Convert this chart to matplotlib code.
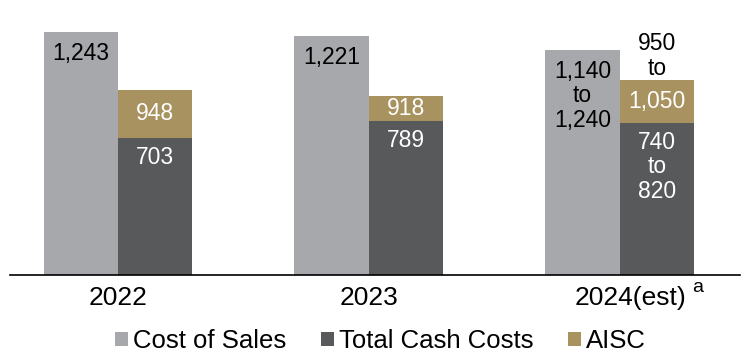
import matplotlib.pyplot as plt
import numpy as np

plt.rcParams['font.family'] = ['Liberation Sans', 'DejaVu Sans']

years = ['2022', '2023', '2024(est)']
cost_of_sales = [1243, 1221, 1150]
total_cash_costs = [703, 789, 780]
aisc = [948, 918, 1000]

cos_labels = ['1,243', '1,221', '1,140\nto\n1,240']
tcc_labels = ['703', '789', '740\nto\n820']
aisc_labels = ['948', '918', '1,050']
aisc_top_label = ['', '', '950\nto']

c_cos = '#a7a8ab'
c_tcc = '#58595b'
c_aisc = '#a8925f'

fig = plt.figure(figsize=(7.5, 3.58), dpi=100)
ax = fig.add_axes([10 / 750, 83 / 358, 730 / 750, 275 / 358])

x = np.arange(len(years))
w = 0.296
ax.bar(x - w / 2, cost_of_sales, w, color=c_cos, label='Cost of Sales')
ax.bar(x + w / 2, total_cash_costs, w, color=c_tcc, label='Total Cash Costs')
ax.bar(x + w / 2, np.array(aisc) - np.array(total_cash_costs), w,
       bottom=total_cash_costs, color=c_aisc, label='AISC')

fs = 16.5
ls = 1.08
for i in range(len(years)):
    ax.annotate(cos_labels[i], (x[i] - w / 2, cost_of_sales[i]),
                xytext=(0, -7), textcoords='offset points',
                ha='center', va='top', fontsize=fs, color='black', linespacing=ls)
    ax.annotate(tcc_labels[i], (x[i] + w / 2, total_cash_costs[i]),
                xytext=(0, -6), textcoords='offset points',
                ha='center', va='top', fontsize=fs, color='white', linespacing=ls)
    ax.text(x[i] + w / 2, (aisc[i] + total_cash_costs[i]) / 2, aisc_labels[i],
            ha='center', va='center', fontsize=fs, color='white')
    if aisc_top_label[i]:
        ax.annotate(aisc_top_label[i], (x[i] + w / 2, aisc[i]),
                    xytext=(0, 0), textcoords='offset points',
                    ha='center', va='bottom', fontsize=fs, color='black',
                    linespacing=ls)

ax.set_xlim(-0.43, 2.48)
ax.set_ylim(0, 1407)
ax.set_xticks(x)
ax.set_xticklabels(['2022', '2023', ''], fontsize=19)
ax.tick_params(axis='x', length=0, pad=8)
ax.set_yticks([])
for s in ['top', 'right', 'left']:
    ax.spines[s].set_visible(False)
ax.spines['bottom'].set_color('black')
ax.spines['bottom'].set_linewidth(1.2)

# 2024 label sits a bit right of its group, with footnote marker
xt = ax.get_xaxis_transform()
ax.annotate('2024(est)', (2.045, 0), xycoords=xt, xytext=(0, -8),
            textcoords='offset points', ha='center', va='top', fontsize=19)
ax.annotate('a', (2.31, 0), xycoords=xt, xytext=(0, -3),
            textcoords='offset points', ha='center', va='top', fontsize=14)

fig.legend(loc='center', bbox_to_anchor=(0.507, 17 / 358), ncol=3,
           frameon=False, fontsize=18.5, handlelength=0.5, handleheight=0.5,
           handletextpad=0.2, columnspacing=1.35, borderpad=0)

fig.savefig('out.png', dpi=100)
